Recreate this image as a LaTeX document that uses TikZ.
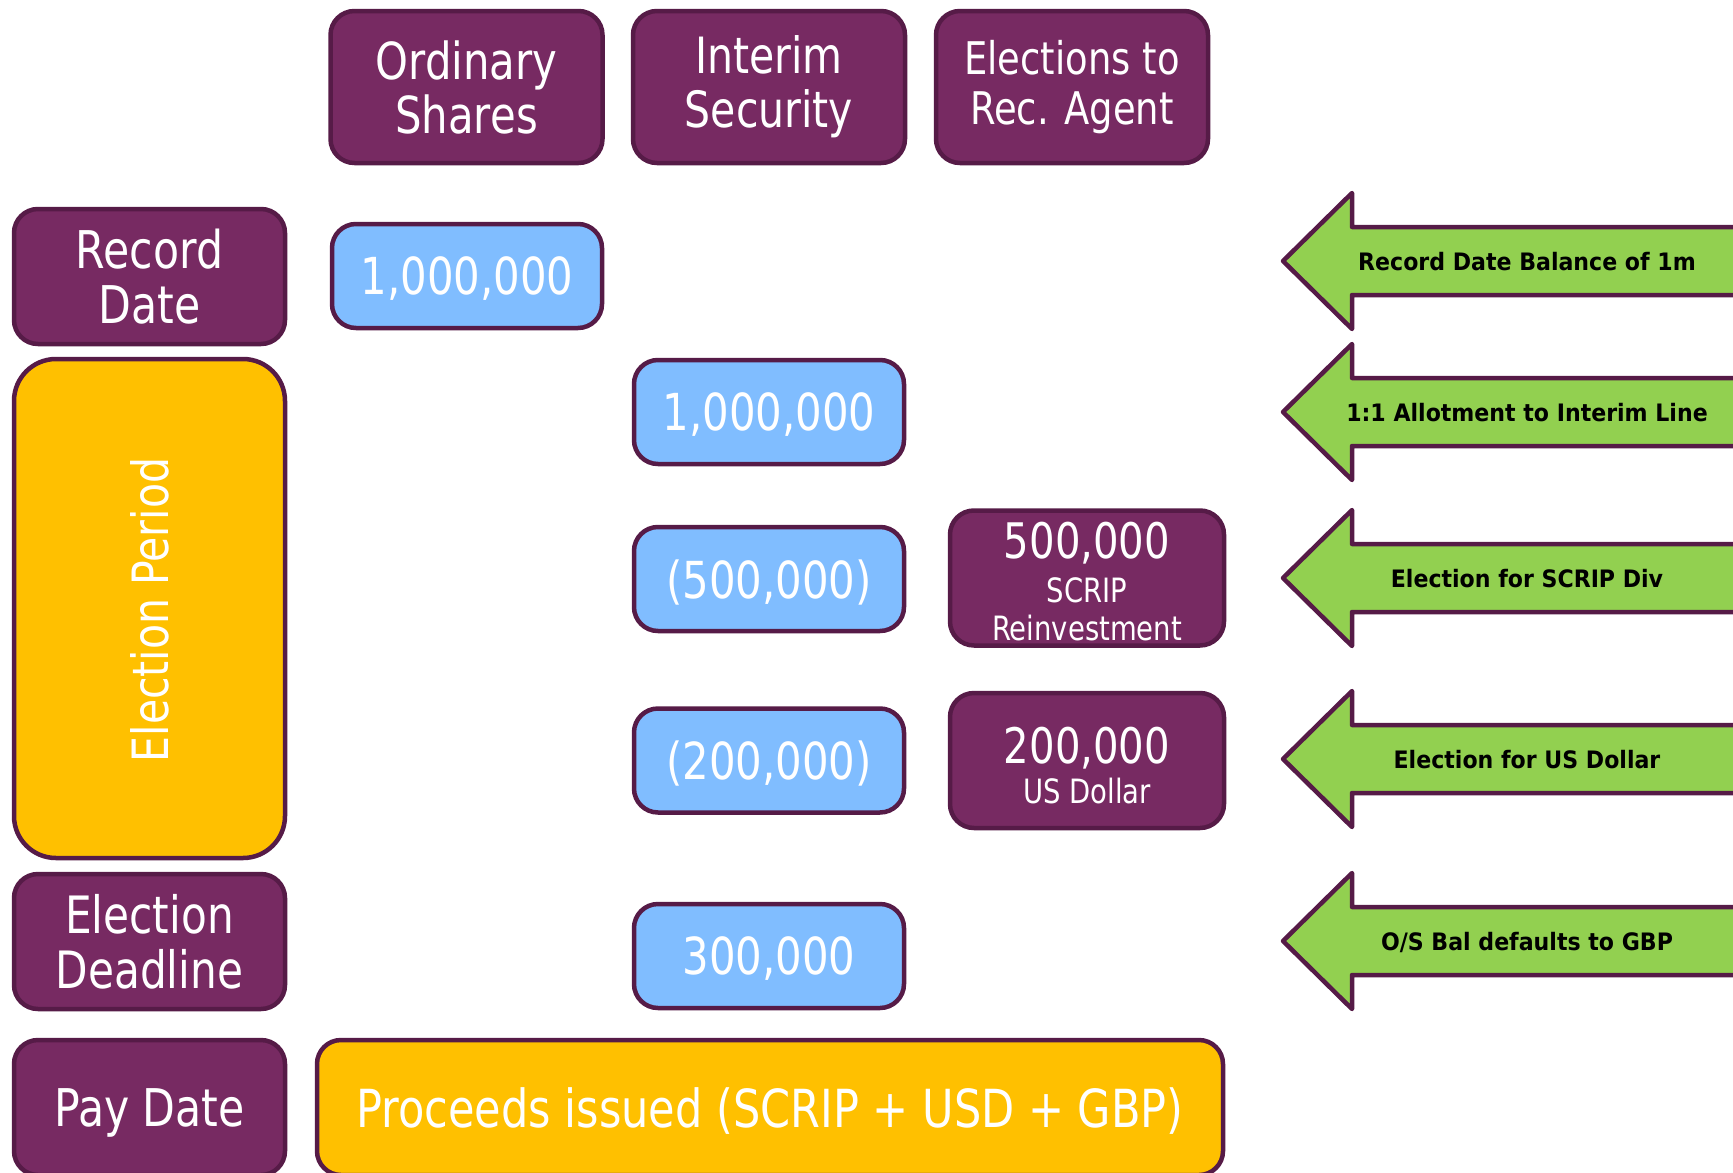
\documentclass[tikz,border=0pt]{standalone}
\usepackage{fontspec}
\setmainfont{DejaVu Sans}
\newfontfamily\wfont[FakeStretch=0.82]{DejaVu Sans}
\newfontfamily\afont[FakeStretch=0.92]{DejaVu Sans}
\definecolor{plum}{HTML}{772A62}
\definecolor{plumedge}{HTML}{561B47}
\definecolor{skyblue}{HTML}{80BDFF}
\definecolor{amber}{HTML}{FFC000}
\definecolor{leaf}{HTML}{92D050}
\tikzset{
  box/.style={draw=plumedge, line width=4.5pt, rounded corners=24pt,
    inner sep=0pt, text=white, align=center},
  head/.style={box, fill=plum, minimum width=272pt, minimum height=152pt,
    font=\wfont\fontsize{51}{54}\selectfont},
  datebox/.style={box, fill=plum, minimum width=271pt, minimum height=135pt,
    font=\wfont\fontsize{52}{55}\selectfont},
  valbox/.style={box, fill=skyblue, minimum width=270pt, minimum height=104pt,
    text depth=0pt, font=\wfont\fontsize{51}{55}\selectfont},
  elecbox/.style={box, fill=plum, minimum width=274pt, minimum height=135pt},
  bigval/.style={text=white, anchor=base, inner sep=0pt,
    font=\wfont\fontsize{49}{52}\selectfont},
  smallval/.style={text=white, anchor=base, inner sep=0pt,
    font=\wfont\fontsize{33.5}{38}\selectfont},
  arrowshape/.style={draw=plumedge, fill=leaf, line width=4.5pt, line join=round},
  arrowtext/.style={inner sep=0pt, text=black,
    font=\afont\bfseries\fontsize{24}{28}\selectfont},
}
\begin{document}
\begin{tikzpicture}[x=1pt, y=-1pt]
\useasboundingbox (0,0) rectangle (1733,1173);

% column headings
\node[head] (hord) at (466.5,87) {Ordinary\\Shares};
\node[head, font=\wfont\fontsize{50}{54}\selectfont] (hint) at (769,87) {Interim\\Security};
\node[head, font=\wfont\fontsize{45}{50}\selectfont] (helect) at (1072,87) {Elections to\\Rec. Agent};

% timeline labels
\node[datebox] (rdate) at (149.5,276.5) {Record\\Date};
\node[box, fill=amber, rounded corners=42pt, minimum width=271pt, minimum height=499pt]
  (eperiod) at (149.5,608.5) {};
\node[text=white, rotate=90, inner sep=0pt, font=\wfont\fontsize{50}{55}\selectfont]
  (eperiodtext) at (150,610) {Election Period};
\node[datebox, font=\wfont\fontsize{51.5}{55}\selectfont] (edead) at (149.5,941.5) {Election\\Deadline};
\node[datebox, text depth=0pt] (pay) at (149.5,1107.5) {Pay Date};

% balances
\node[valbox] (ordbal) at (467,276) {1,000,000};
\node[valbox] (intbal) at (769,412) {1,000,000};
\node[valbox] (scripout) at (769,579) {(500,000)};
\node[valbox] (usdout) at (769,760.5) {(200,000)};
\node[valbox] (remain) at (769,956) {300,000};

% elections lodged with the receiving agent
\node[elecbox] (scrip) at (1087,578) {};
\node[bigval] (scripamt) at (1087,558) {500,000};
\node[smallval] (scripl1) at (1087,602) {SCRIP};
\node[smallval] (scripl2) at (1087,640) {Reinvestment};
\node[elecbox] (usd) at (1087,760.5) {};
\node[bigval] (usdamt) at (1087,763) {200,000};
\node[smallval] (usdl) at (1087,803) {US Dollar};

% payment
\node[box, fill=amber, minimum width=906pt, minimum height=135pt, text depth=0pt,
  font=\wfont\fontsize{52.5}{56}\selectfont] (proc) at (770,1107.5)
  {Proceeds issued (SCRIP + USD + GBP)};

% step arrows on the right
\foreach \c/\nm/\txt in {261/a1/{Record Date Balance of 1m},
                         412/a2/{1:1 Allotment to Interim Line},
                         578/a3/{Election for SCRIP Div},
                         759/a4/{Election for US Dollar},
                         941/a5/{O/S Bal defaults to GBP}}{
  \draw[arrowshape] (1283,\c) -- (1352,\c-68) -- (1352,\c-34) -- (1760,\c-34)
    -- (1760,\c+34) -- (1352,\c+34) -- (1352,\c+68) -- cycle;
  \node[arrowtext] (\nm) at (1527,\c+1) {\txt};
}
\end{tikzpicture}
\end{document}
